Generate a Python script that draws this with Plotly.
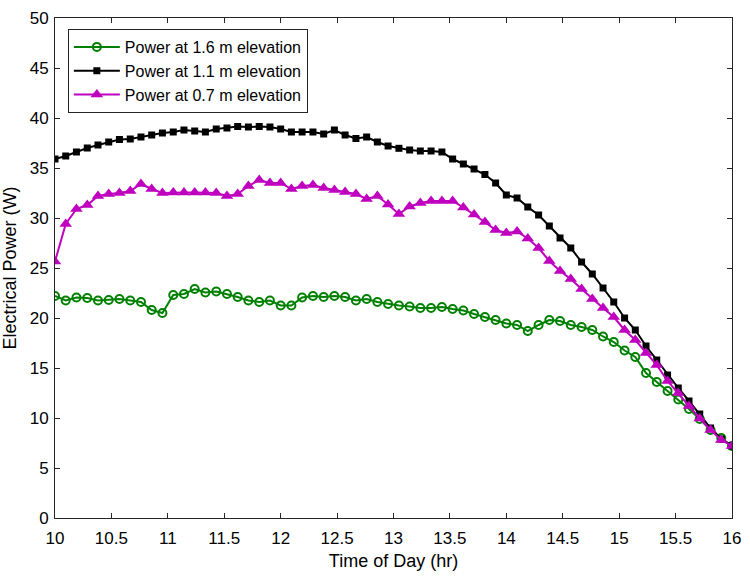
import plotly.graph_objects as go

time_hr = [10.000, 10.095, 10.190, 10.286, 10.381, 10.476, 10.571, 10.667, 10.762, 10.857,
           10.952, 11.048, 11.143, 11.238, 11.333, 11.429, 11.524, 11.619, 11.714, 11.810,
           11.905, 12.000, 12.095, 12.190, 12.286, 12.381, 12.476, 12.571, 12.667, 12.762,
           12.857, 12.952, 13.048, 13.143, 13.238, 13.333, 13.429, 13.524, 13.619, 13.714,
           13.810, 13.905, 14.000, 14.095, 14.190, 14.286, 14.381, 14.476, 14.571, 14.667,
           14.762, 14.857, 14.952, 15.048, 15.143, 15.238, 15.333, 15.429, 15.524, 15.619,
           15.714, 15.810, 15.905, 16.000]

power_16m = [22.2, 21.75, 22.05, 22.0, 21.75, 21.8, 21.9, 21.75, 21.6, 20.8,
             20.5, 22.3, 22.4, 22.9, 22.55, 22.65, 22.4, 22.1, 21.75, 21.6,
             21.75, 21.25, 21.25, 22.05, 22.2, 22.1, 22.2, 22.1, 21.75, 21.9,
             21.6, 21.4, 21.25, 21.15, 21.0, 21.0, 21.1, 20.9, 20.75, 20.4,
             20.1, 19.8, 19.45, 19.3, 18.7, 19.3, 19.8, 19.7, 19.3, 19.1,
             18.8, 18.15, 17.6, 16.75, 16.1, 14.5, 13.6, 12.7, 11.85, 10.9,
             9.9, 8.8, 8.0, 7.2]

power_11m = [35.9, 36.2, 36.6, 37.0, 37.3, 37.6, 37.85, 37.9, 38.1, 38.3,
             38.5, 38.6, 38.8, 38.7, 38.6, 38.9, 39.0, 39.15, 39.1, 39.15,
             39.1, 38.9, 38.6, 38.6, 38.6, 38.4, 38.8, 38.3, 37.95, 38.1,
             37.6, 37.2, 36.97, 36.8, 36.7, 36.7, 36.6, 35.9, 35.4, 34.9,
             34.35, 33.5, 32.3, 32.0, 31.1, 30.3, 29.2, 28.0, 27.0, 25.6,
             24.4, 23.0, 21.6, 20.0, 18.8, 17.2, 15.8, 14.3, 13.0, 11.7,
             10.4, 9.0, 7.9, 7.2]

power_07m = [25.65, 29.4, 30.9, 31.3, 32.2, 32.4, 32.5, 32.7, 33.4, 32.9,
             32.5, 32.55, 32.55, 32.55, 32.55, 32.5, 32.2, 32.4, 33.2, 33.8,
             33.5, 33.5, 32.9, 33.2, 33.3, 33.0, 32.8, 32.6, 32.4, 31.9,
             32.2, 31.35, 30.4, 31.15, 31.5, 31.7, 31.7, 31.7, 31.05, 30.35,
             29.6, 28.8, 28.5, 28.65, 27.95, 27.0, 25.7, 24.7, 23.9, 22.9,
             21.9, 21.0, 20.1, 18.8, 17.8, 16.5, 15.3, 13.7, 12.5, 11.2,
             9.95, 8.8, 7.8, 7.2]

series_names = ["Power at 1.6 m elevation", "Power at 1.1 m elevation", "Power at 0.7 m elevation"]
x_ticks = [10, 10.5, 11, 11.5, 12, 12.5, 13, 13.5, 14, 14.5, 15, 15.5, 16]
y_ticks = [0, 5, 10, 15, 20, 25, 30, 35, 40, 45, 50]

GREEN = "rgb(0,128,0)"
BLACK = "rgb(0,0,0)"
MAGENTA = "rgb(191,0,191)"
FONT = "Arial, Liberation Sans, Helvetica, sans-serif"

fig = go.Figure()
fig.add_trace(go.Scatter(
    x=time_hr, y=power_16m, name=series_names[0], mode="lines+markers",
    line=dict(color=GREEN, width=2),
    marker=dict(symbol="circle-open", size=8, color=GREEN, line=dict(width=2, color=GREEN)),
))
fig.add_trace(go.Scatter(
    x=time_hr, y=power_11m, name=series_names[1], mode="lines+markers",
    line=dict(color=BLACK, width=2),
    marker=dict(symbol="square", size=7, color=BLACK),
))
fig.add_trace(go.Scatter(
    x=time_hr, y=power_07m, name=series_names[2], mode="lines+markers",
    line=dict(color=MAGENTA, width=2),
    marker=dict(symbol="triangle-up", size=11, color=MAGENTA),
))

axis_common = dict(
    showline=True, linecolor="rgb(38,38,38)", linewidth=1, mirror="ticks",
    ticks="inside", ticklen=5, tickcolor="rgb(38,38,38)", tickwidth=1,
    showgrid=False, zeroline=False,
    tickfont=dict(family=FONT, size=17, color="rgb(0,0,0)"),
)

fig.update_xaxes(
    range=[10, 16], tickvals=x_ticks, ticktext=[f"{v:g}" for v in x_ticks],
    ticklabelstandoff=5,
    title=dict(text="Time of Day (hr)", font=dict(family=FONT, size=18, color="black"), standoff=6),
    **axis_common,
)
fig.update_yaxes(
    range=[0, 50], tickvals=y_ticks, ticktext=[str(v) for v in y_ticks],
    ticklabelstandoff=2,
    title=dict(text="Electrical Power (W)", font=dict(family=FONT, size=18, color="black"), standoff=8),
    **axis_common,
)

fig.update_layout(
    width=750, height=579,
    margin=dict(l=54, r=10, t=9, b=61),
    paper_bgcolor="white", plot_bgcolor="white",
    font=dict(family=FONT, color="black"),
    showlegend=True,
    legend=dict(
        x=0.019, y=0.978, xanchor="left", yanchor="top",
        bgcolor="white", bordercolor="rgb(38,38,38)", borderwidth=1,
        font=dict(family=FONT, size=16, color="black"),
        itemwidth=46, tracegroupgap=0,
    ),
)

fig.write_html("out.html")
